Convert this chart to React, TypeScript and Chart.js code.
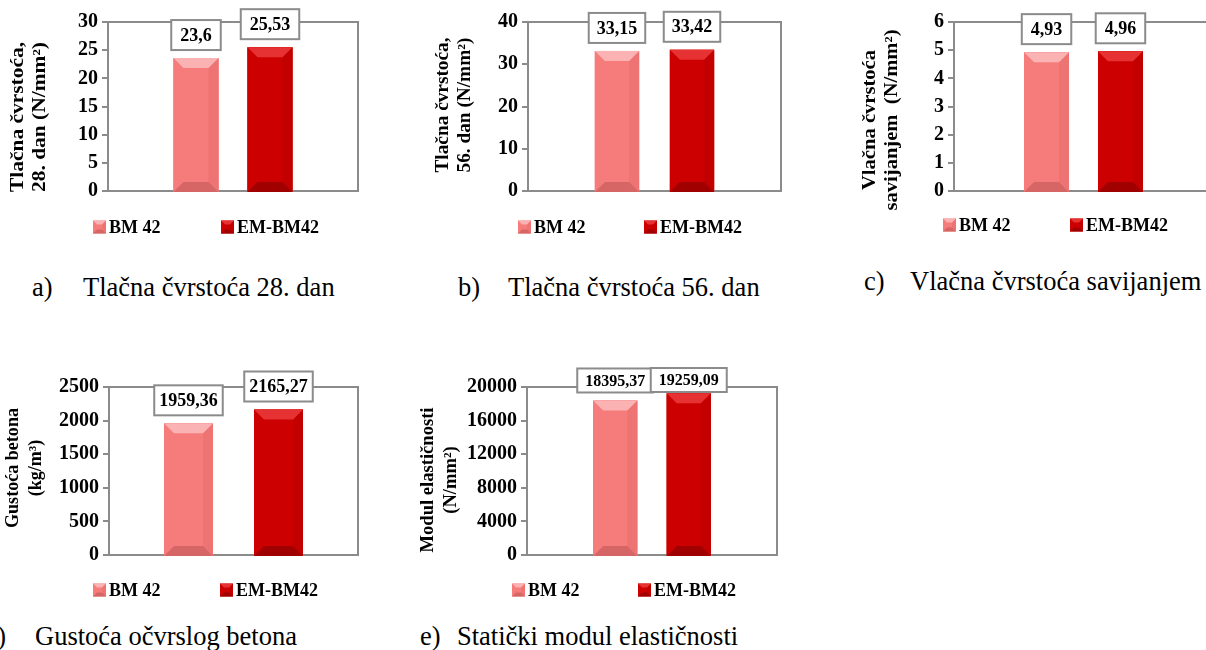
import React, { useEffect, useRef } from 'react';
import { Chart, registerables } from 'chart.js';

Chart.register(...registerables);

// ---------- data ----------
const seriesLabels = ['BM 42', 'EM-BM42'];

const tlacna28Values = [23.6, 25.53];
const tlacna56Values = [33.15, 33.42];
const vlacnaValues = [4.93, 4.96];
const gustocaValues = [1959.36, 2165.27];
const modulValues = [18395.37, 19259.09];

const tlacna28Ticks = [0, 5, 10, 15, 20, 25, 30];
const tlacna56Ticks = [0, 10, 20, 30, 40];
const vlacnaTicks = [0, 1, 2, 3, 4, 5, 6];
const gustocaTicks = [0, 500, 1000, 1500, 2000, 2500];
const modulTicks = [0, 4000, 8000, 12000, 16000, 20000];

const tlacna28Title = ['Tlačna čvrstoća,', '28. dan (N/mm²)'];
const tlacna56Title = ['Tlačna čvrstoća,', '56. dan (N/mm²)'];
const vlacnaTitle = ['Vlačna čvrstoća', 'savijanjem  (N/mm²)'];
const gustocaTitle = ['Gustoća betona', '(kg/m³)'];
const modulTitle = ['Modul elastičnosti', '(N/mm²)'];

const captionLetters = ['a)', 'b)', 'c)', 'd)', 'e)'];
const captionTexts = [
  'Tlačna čvrstoća 28. dan',
  'Tlačna čvrstoća 56. dan',
  'Vlačna čvrstoća savijanjem',
  'Gustoća očvrslog betona',
  'Statički modul elastičnosti',
];

// ---------- styles ----------
const FONT = "'Liberation Serif', 'Times New Roman', Times, serif";
const GRAY = '#8b8b8b';
const palettes = [
  { base: '#F67C7C', light: '#FBB2B2', dark: '#D66666', left: '#F67C7C', right: '#EE7474' },
  { base: '#CC0000', light: '#E63232', dark: '#A00000', left: '#CC0000', right: '#C20000' },
];

const panelLayouts = [
  { canvas: { x: 0, y: 0, w: 400, h: 250 }, area: { l: 108, t: 22, r: 358, b: 191 }, cp: 0.592, bp: 0.608,
    titleX: [18, 40], titleY: 117, titleLen: 150, legendX: [93, 221], legendY: 227, labelFont: 18, padX: 9, padY: 6 },
  { canvas: { x: 400, y: 0, w: 400, h: 250 }, area: { l: 528, t: 22, r: 781, b: 191 }, cp: 0.593, bp: 0.59,
    titleX: [443, 465], titleY: 105, titleLen: 135, legendX: [518, 644], legendY: 227, labelFont: 18, padX: 8, padY: 6 },
  { canvas: { x: 800, y: 0, w: 413, h: 250 }, area: { l: 954, t: 22, r: 1213, b: 191 }, cp: 0.571, bp: 0.608,
    titleX: [870, 892], titleY: 120, titleLen: 140, legendX: [943, 1070], legendY: 225, labelFont: 18, padX: 9, padY: 6 },
  { canvas: { x: 0, y: 330, w: 400, h: 280 }, area: { l: 109, t: 387, r: 358, b: 555 }, cp: 0.723, bp: 0.544,
    titleX: [13, 36], titleY: 468, titleLen: 120, legendX: [93, 220], legendY: 590, labelFont: 18, padX: 5, padY: 6 },
  { canvas: { x: 400, y: 330, w: 400, h: 280 }, area: { l: 527, t: 387, r: 777, b: 555 }, cp: 0.588, bp: 0.6,
    titleX: [428, 451], titleY: 480, titleLen: 145, legendX: [512, 638], legendY: 590, labelFont: 16, padX: 8, padY: 4 },
];

const panelValues = [tlacna28Values, tlacna56Values, vlacnaValues, gustocaValues, modulValues];
const panelTicks = [tlacna28Ticks, tlacna56Ticks, vlacnaTicks, gustocaTicks, modulTicks];
const panelTitles = [tlacna28Title, tlacna56Title, vlacnaTitle, gustocaTitle, modulTitle];

const captionLayouts = [
  { letterX: 32, textX: 83, top: 274 },
  { letterX: 458, textX: 508, top: 274 },
  { letterX: 864, textX: 910, top: 268 },
  { letterX: -16, textX: 35, top: 623 },
  { letterX: 420, textX: 457, top: 623 },
];

const fmt = (v: number) => String(v).replace('.', ',');

function poly(ctx: CanvasRenderingContext2D, pts: number[][], color: string) {
  ctx.beginPath();
  ctx.moveTo(pts[0][0], pts[0][1]);
  for (let i = 1; i < pts.length; i++) ctx.lineTo(pts[i][0], pts[i][1]);
  ctx.closePath();
  ctx.fillStyle = color;
  ctx.fill();
}

function bevelBox(ctx: CanvasRenderingContext2D, l: number, t: number, r: number, b: number, bv: number, pal: any) {
  ctx.fillStyle = pal.base;
  ctx.fillRect(l, t, r - l, b - t);
  poly(ctx, [[l, t], [l + bv, t + bv], [l + bv, b - bv], [l, b]], pal.left);
  poly(ctx, [[r, t], [r - bv, t + bv], [r - bv, b - bv], [r, b]], pal.right);
  poly(ctx, [[l, t], [r, t], [r - bv, t + bv], [l + bv, t + bv]], pal.light);
  poly(ctx, [[l, b], [r, b], [r - bv, b - bv], [l + bv, b - bv]], pal.dark);
}

// ---------- plugins ----------
const framePlugin = {
  id: 'frame',
  beforeDatasetsDraw(chart: any) {
    const { ctx, chartArea: a } = chart;
    ctx.save();
    ctx.strokeStyle = GRAY;
    ctx.lineWidth = 2;
    ctx.beginPath();
    ctx.moveTo(a.left, a.top);
    ctx.lineTo(a.right, a.top);
    ctx.lineTo(a.right, a.bottom);
    ctx.stroke();
    ctx.restore();
  },
};

const bevelPlugin = {
  id: 'bevel',
  afterDatasetsDraw(chart: any) {
    const ctx = chart.ctx;
    ctx.save();
    chart.data.datasets.forEach((ds: any, i: number) => {
      const meta = chart.getDatasetMeta(i);
      const pal = palettes[i];
      meta.data.forEach((bar: any) => {
        const p = bar.getProps(['x', 'y', 'base', 'width'], true);
        const l = p.x - p.width / 2;
        const r = p.x + p.width / 2;
        const t = Math.min(p.y, p.base);
        const b = Math.max(p.y, p.base) + 2;
        const bv = Math.min(10, (b - t) / 2, p.width / 4);
        bevelBox(ctx, l, t, r, b, bv, pal);
      });
    });
    ctx.restore();
  },
};

const valueLabelPlugin = {
  id: 'valueLabels',
  afterDatasetsDraw(chart: any, _args: any, opts: any) {
    const ctx = chart.ctx;
    ctx.save();
    ctx.font = `bold ${opts.fontSize}px ${FONT}`;
    chart.data.datasets.forEach((ds: any, i: number) => {
      const meta = chart.getDatasetMeta(i);
      meta.data.forEach((bar: any, j: number) => {
        const text = fmt(ds.data[j]);
        const tw = ctx.measureText(text).width;
        const bw = tw + 2 * opts.padX;
        const bh = opts.fontSize + 2 * opts.padY;
        let top = bar.y - 8 - bh;
        top = Math.max(top, chart.chartArea.top - 19);
        const left = bar.x - bw / 2;
        ctx.fillStyle = '#ffffff';
        ctx.fillRect(left, top, bw, bh);
        ctx.strokeStyle = GRAY;
        ctx.lineWidth = 2;
        ctx.strokeRect(left, top, bw, bh);
        ctx.fillStyle = '#000000';
        ctx.textAlign = 'center';
        ctx.textBaseline = 'middle';
        ctx.fillText(text, bar.x, top + bh / 2 + 1);
      });
    });
    ctx.restore();
  },
};

const boxLegendPlugin = {
  id: 'boxLegend',
  afterDraw(chart: any, _args: any, opts: any) {
    const ctx = chart.ctx;
    ctx.save();
    ctx.font = `bold 18px ${FONT}`;
    ctx.textAlign = 'left';
    ctx.textBaseline = 'middle';
    chart.data.datasets.forEach((ds: any, i: number) => {
      const x = opts.x[i];
      const y = opts.y;
      bevelBox(ctx, x, y - 6.5, x + 13, y + 6.5, 4, palettes[i]);
      ctx.fillStyle = '#000000';
      ctx.fillText(ds.label, x + 16, y + 1);
    });
    ctx.restore();
  },
};

const yTitlePlugin = {
  id: 'yTitle',
  afterDraw(chart: any, _args: any, opts: any) {
    const ctx = chart.ctx;
    ctx.save();
    ctx.font = `bold 18px ${FONT}`;
    const w0 = ctx.measureText(opts.lines[0]).width;
    const s = opts.length / w0;
    ctx.fillStyle = '#000000';
    ctx.textAlign = 'center';
    ctx.textBaseline = 'middle';
    opts.lines.forEach((line: string, i: number) => {
      ctx.save();
      ctx.translate(opts.x[i], opts.y);
      ctx.rotate(-Math.PI / 2);
      ctx.scale(s, 1);
      ctx.fillText(line, 0, 0);
      ctx.restore();
    });
    ctx.restore();
  },
};

// ---------- components ----------
function BarPanel({ index }: { index: number }) {
  const ref = useRef<HTMLCanvasElement>(null);
  const L = panelLayouts[index];
  const values = panelValues[index];
  const ticks = panelTicks[index];
  const title = panelTitles[index];
  const c = L.canvas;

  useEffect(() => {
    if (!ref.current) return;
    const chart = new Chart(ref.current, {
      type: 'bar',
      data: {
        labels: [''],
        datasets: seriesLabels.map((label, i) => ({
          label,
          data: [values[i]],
          backgroundColor: palettes[i].base,
          borderWidth: 0,
          categoryPercentage: L.cp,
          barPercentage: L.bp,
        })),
      },
      options: {
        animation: false,
        responsive: false,
        devicePixelRatio: 1,
        layout: {
          padding: {
            left: 0,
            top: L.area.t - c.y,
            right: c.x + c.w - L.area.r,
            bottom: c.y + c.h - L.area.b,
          },
        },
        scales: {
          x: {
            type: 'category',
            display: true,
            grid: { display: false, drawTicks: false },
            border: { display: true, color: GRAY, width: 2 },
            ticks: { display: false },
            afterFit: (s: any) => { s.height = 0; },
          },
          y: {
            min: ticks[0],
            max: ticks[ticks.length - 1],
            ticks: {
              stepSize: ticks[1] - ticks[0],
              color: '#000000',
              padding: 4,
              font: { family: FONT, size: 20, weight: 'bold' },
              callback: (v: any) => String(v),
            },
            grid: { display: true, drawOnChartArea: false, drawTicks: true, tickLength: 6, tickColor: GRAY, lineWidth: 2 },
            border: { display: true, color: GRAY, width: 2 },
            afterFit: (s: any) => { s.width = L.area.l - c.x; },
          },
        },
        plugins: {
          legend: { display: false },
          tooltip: { enabled: false },
          valueLabels: { fontSize: L.labelFont, padX: L.padX, padY: L.padY },
          boxLegend: { x: L.legendX.map((v) => v - c.x), y: L.legendY - c.y },
          yTitle: { lines: title, x: L.titleX.map((v) => v - c.x), y: L.titleY - c.y, length: L.titleLen },
        } as any,
      } as any,
      plugins: [framePlugin, bevelPlugin, valueLabelPlugin, boxLegendPlugin, yTitlePlugin],
    });
    return () => chart.destroy();
  }, []);

  return (
    <canvas
      ref={ref}
      width={c.w}
      height={c.h}
      style={{ position: 'absolute', left: c.x, top: c.y, width: c.w, height: c.h }}
    />
  );
}

export default function App() {
  const capStyle: React.CSSProperties = {
    position: 'absolute',
    fontFamily: FONT,
    fontSize: '26.5px',
    lineHeight: 1,
    color: '#000',
    whiteSpace: 'nowrap',
  };
  return (
    <div
      style={{
        position: 'absolute',
        left: 0,
        top: 0,
        width: 1206,
        height: 650,
        overflow: 'hidden',
        background: '#ffffff',
      }}
    >
      {panelLayouts.map((_, i) => (
        <BarPanel key={i} index={i} />
      ))}
      {captionLayouts.map((cl, i) => (
        <React.Fragment key={'cap' + i}>
          <div style={{ ...capStyle, left: cl.letterX, top: cl.top }}>{captionLetters[i]}</div>
          <div style={{ ...capStyle, left: cl.textX, top: cl.top }}>{captionTexts[i]}</div>
        </React.Fragment>
      ))}
    </div>
  );
}
